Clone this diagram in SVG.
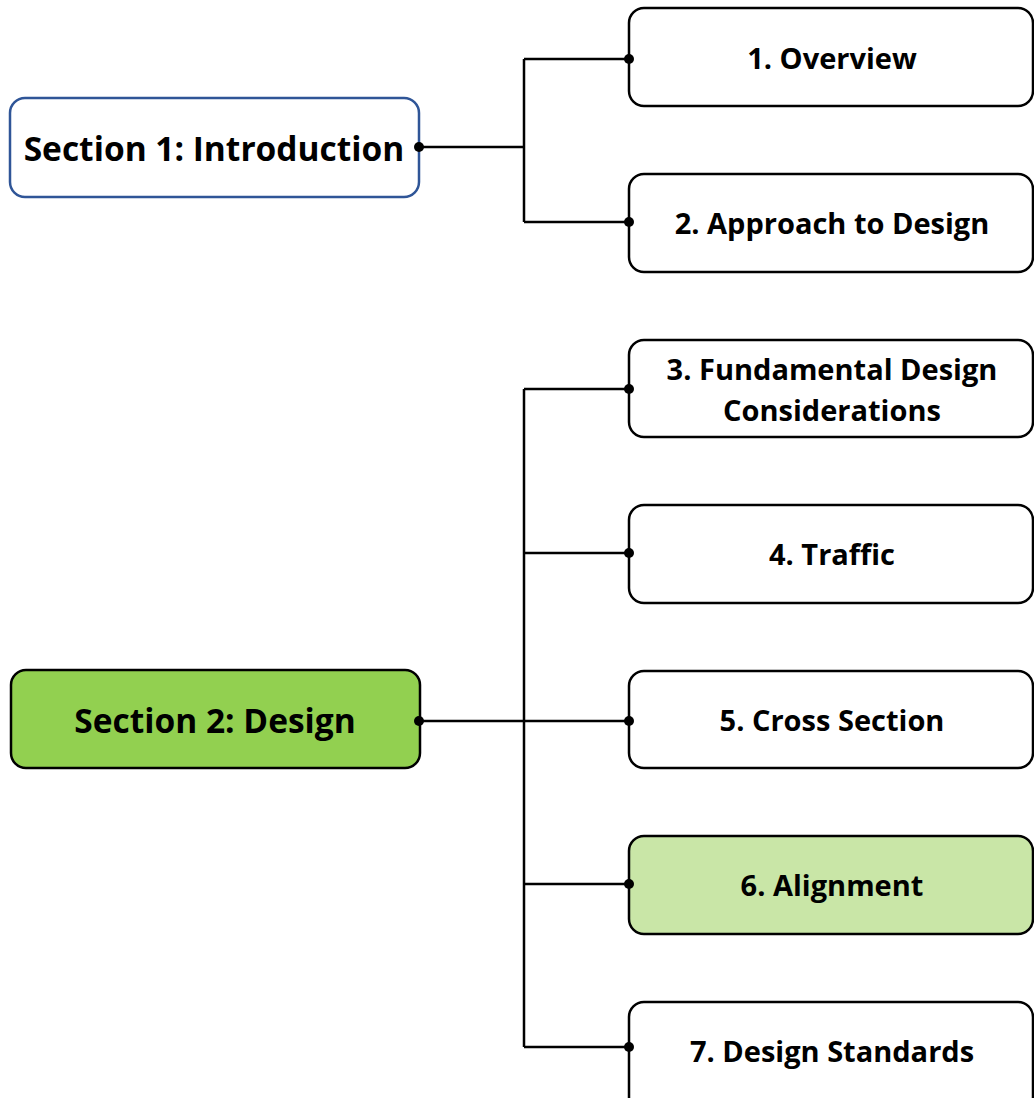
<svg xmlns="http://www.w3.org/2000/svg" width="1034" height="1098" viewBox="0 0 1034 1098">
<style>
.box{fill:#fff;stroke:#000;stroke-width:2.5}
.t{font-family:"Open Sans","Liberation Sans",sans-serif;font-weight:bold;fill:#000;text-anchor:middle;dominant-baseline:central}
.big{font-size:33.5px}
.sm{font-size:29px}
.c{fill:none;stroke:#000;stroke-width:2.5}
</style>
<rect width="1034" height="1098" fill="#fff"/>
<g id="intro"><rect x="10" y="98" width="409" height="99" rx="15" fill="#fff" stroke="#2F5597" stroke-width="2.5"/><text class="t big" x="214" y="148">Section 1: Introduction</text></g>
<g id="design"><rect x="11" y="670" width="409" height="98" rx="15" fill="#92D050" stroke="#000" stroke-width="2.5"/><text class="t big" x="215" y="720">Section 2: Design</text></g>
<g id="n1"><rect class="box" x="629" y="8" width="404" height="98" rx="15"/><text class="t sm" x="832" y="57">1. Overview</text></g>
<g id="n2"><rect class="box" x="629" y="174" width="404" height="98" rx="15"/><text class="t sm" x="832" y="222">2. Approach to Design</text></g>
<g id="n3"><rect class="box" x="629" y="340" width="404" height="97" rx="15"/><text class="t sm" x="832" y="368">3. Fundamental Design</text><text class="t sm" x="832" y="409">Considerations</text></g>
<g id="n4"><rect class="box" x="629" y="505" width="404" height="98" rx="15"/><text class="t sm" x="832" y="553">4. Traffic</text></g>
<g id="n5"><rect class="box" x="629" y="671" width="404" height="97" rx="15"/><text class="t sm" x="832" y="719">5. Cross Section</text></g>
<g id="n6"><rect x="629" y="836" width="404" height="98" rx="15" fill="#C9E6A7" stroke="#000" stroke-width="2.5"/><text class="t sm" x="832" y="884">6. Alignment</text></g>
<g id="n7"><rect class="box" x="629" y="1002" width="404" height="110" rx="15"/><text class="t sm" x="832" y="1050">7. Design Standards</text></g>
<g id="connectors">
<path class="c" d="M419 147H524M524 59V222M524 59H629M524 222H629"/>
<path class="c" d="M419 721H524M524 389V1047M524 389H629M524 553H629M524 721H629M524 884H629M524 1047H629"/>
<g fill="#000">
<circle cx="419" cy="147" r="5"/><circle cx="629" cy="59" r="5"/><circle cx="629" cy="222" r="5"/>
<circle cx="419" cy="721" r="5"/><circle cx="629" cy="389" r="5"/><circle cx="629" cy="553" r="5"/><circle cx="629" cy="721" r="5"/><circle cx="629" cy="884" r="5"/><circle cx="629" cy="1047" r="5"/>
</g>
</g>
</svg>
